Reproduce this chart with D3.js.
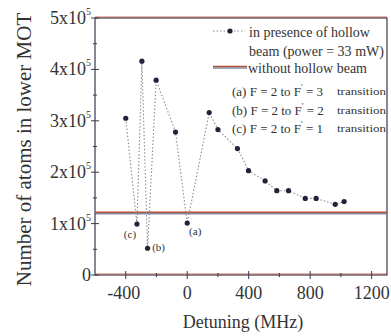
<!DOCTYPE html>
<html>
<head>
<meta charset="utf-8">
<script src="https://cdn.jsdelivr.net/npm/d3@7"></script>
<style>
  html, body { margin: 0; padding: 0; background: #fff; }
</style>
</head>
<body>
<div id="chart"></div>
<script>
// detuning (MHz) and atom number with hollow beam on
const detuning = [-400, -327, -295, -258, -202, -76, 0, 143, 200, 327, 399, 507, 583, 659, 768, 839, 963, 1021];
const atoms    = [3.05e5, 0.99e5, 4.16e5, 0.52e5, 3.79e5, 2.78e5, 1.01e5, 3.16e5, 2.83e5, 2.46e5,
                  2.03e5, 1.83e5, 1.64e5, 1.64e5, 1.49e5, 1.49e5, 1.375e5, 1.43e5];
// level without hollow beam
const withoutBeam = 1.2e5;

const xTicks = [-400, 0, 400, 800, 1200];
const xMinor = [-600, -200, 200, 600, 1000];
const yTicks = [0, 1e5, 2e5, 3e5, 4e5, 5e5];
const yMinor = [0.5e5, 1.5e5, 2.5e5, 3.5e5, 4.5e5];

// transition markers: [detuning, atoms, label]
const marks = [[-327, 0.99e5, "(c)"], [-258, 0.52e5, "(b)"], [0, 1.01e5, "(a)"]];

const legendTransitions = [
  ["(a) F = 2 to F", " = 3"],
  ["(b) F = 2 to F", " = 2"],
  ["(c) F = 2 to F", " = 1"]
];

const width = 391, height = 336;
const margin = { top: 18, right: 4, bottom: 61, left: 95 };
const serif = "'Liberation Serif', 'Times New Roman', Times, 'DejaVu Serif', serif";

const svg = d3.select("#chart").append("svg")
  .attr("width", width)
  .attr("height", height)
  .attr("font-family", serif)
  .style("display", "block");

const x = d3.scaleLinear().domain([-600, 1300]).range([margin.left, width - margin.right]);
const y = d3.scaleLinear().domain([0, 5e5]).range([height - margin.bottom, margin.top]);

const ink = "#3a3a4e";
const red = "#b5503a";

// frame
const x0 = x.range()[0], x1 = x.range()[1], yb = y(0), yt = y(5e5);
svg.append("rect")
  .attr("x", x0).attr("y", yt)
  .attr("width", x1 - x0).attr("height", yb - yt)
  .attr("fill", "none").attr("stroke", ink).attr("stroke-width", 1.2);
// reddish fringe on horizontal edges (scan look)
[yt, yb].forEach(v => {
  svg.append("line").attr("x1", x0).attr("x2", x1).attr("y1", v - 1).attr("y2", v - 1)
    .attr("stroke", red).attr("stroke-width", 1.2).attr("opacity", 0.8);
});

// ticks
const tickG = svg.append("g").attr("stroke", ink).attr("stroke-width", 1);
xTicks.forEach(t => tickG.append("line").attr("x1", x(t)).attr("x2", x(t)).attr("y1", yb - 4).attr("y2", yb + 4));
xMinor.filter(t => x(t) > x0 + 1).forEach(t => tickG.append("line").attr("x1", x(t)).attr("x2", x(t)).attr("y1", yb - 2).attr("y2", yb + 2));
yTicks.forEach(t => tickG.append("line").attr("x1", x0 - 4).attr("x2", x0 + 4).attr("y1", y(t)).attr("y2", y(t)));
yMinor.forEach(t => tickG.append("line").attr("x1", x0 - 2).attr("x2", x0 + 2).attr("y1", y(t)).attr("y2", y(t)));

// x tick labels
svg.append("g").selectAll("text").data(xTicks).enter().append("text")
  .attr("x", d => x(d) + (d < 0 ? -2 : 0))
  .attr("y", yb + 24)
  .attr("text-anchor", "middle")
  .attr("font-size", 18)
  .attr("fill", "#333")
  .text(d => d);

// y tick labels with superscript exponent
const yl = svg.append("g").selectAll("text").data(yTicks).enter().append("text")
  .attr("x", x0 - 4)
  .attr("y", d => y(d) + 6)
  .attr("text-anchor", "end")
  .attr("font-size", 18)
  .attr("fill", "#333");
yl.each(function (d) {
  const t = d3.select(this);
  if (d === 0) { t.text("0"); return; }
  t.append("tspan").text((d / 1e5) + "x10");
  t.append("tspan").attr("font-size", 10).attr("dy", -9).text("5");
});

// axis titles
svg.append("text")
  .attr("x", 243)
  .attr("y", height - 8)
  .attr("text-anchor", "middle")
  .attr("font-size", 18)
  .attr("fill", "#333")
  .text("Detuning (MHz)");

svg.append("text")
  .attr("transform", `translate(31,${(yt + yb) / 2 + 3}) rotate(-90)`)
  .attr("text-anchor", "middle")
  .attr("font-size", 21)
  .attr("fill", "#333")
  .text("Number of atoms in lower MOT");

// without hollow beam line
svg.append("line")
  .attr("x1", x0).attr("x2", x1)
  .attr("y1", y(withoutBeam) - 1).attr("y2", y(withoutBeam) - 1)
  .attr("stroke", red).attr("stroke-width", 1.5);
svg.append("line")
  .attr("x1", x0).attr("x2", x1)
  .attr("y1", y(withoutBeam) + 0.5).attr("y2", y(withoutBeam) + 0.5)
  .attr("stroke", "#4a5a78").attr("stroke-width", 1);

// dotted data line
const pts = detuning.map((d, i) => [d, atoms[i]]);
const line = d3.line().x(d => x(d[0])).y(d => y(d[1]));
svg.append("path")
  .datum(pts)
  .attr("d", line)
  .attr("fill", "none")
  .attr("stroke", "#8a8a96")
  .attr("stroke-width", 1.1)
  .attr("stroke-dasharray", "1.5,2");

svg.append("g").selectAll("circle").data(pts).enter().append("circle")
  .attr("cx", d => x(d[0]))
  .attr("cy", d => y(d[1]))
  .attr("r", 2.6)
  .attr("fill", "#22223a");

// transition annotations
const annOffset = { "(c)": [-7, 14], "(b)": [11, 3], "(a)": [8, 12] };
svg.append("g").selectAll("text").data(marks).enter().append("text")
  .attr("x", d => x(d[0]) + annOffset[d[2]][0])
  .attr("y", d => y(d[1]) + annOffset[d[2]][1])
  .attr("text-anchor", "middle")
  .attr("font-size", 11)
  .attr("fill", "#333")
  .text(d => d[2]);

// legend
const lg = svg.append("g").attr("fill", "#333");
lg.append("line").attr("x1", 213).attr("x2", 245).attr("y1", 31).attr("y2", 31)
  .attr("stroke", "#8a8a96").attr("stroke-width", 1.1).attr("stroke-dasharray", "1.5,2");
lg.append("circle").attr("cx", 230).attr("cy", 31).attr("r", 2.6).attr("fill", "#22223a");
lg.append("text").attr("x", 249).attr("y", 37).attr("font-size", 14)
  .attr("textLength", 121).attr("lengthAdjust", "spacingAndGlyphs").text("in presence of hollow");
lg.append("text").attr("x", 249).attr("y", 56).attr("font-size", 14)
  .attr("textLength", 135).attr("lengthAdjust", "spacingAndGlyphs").text("beam (power = 33 mW)");
lg.append("line").attr("x1", 213).attr("x2", 247).attr("y1", 66.5).attr("y2", 66.5)
  .attr("stroke", red).attr("stroke-width", 1.5);
lg.append("line").attr("x1", 213).attr("x2", 247).attr("y1", 68).attr("y2", 68)
  .attr("stroke", "#4a5a78").attr("stroke-width", 1);
lg.append("text").attr("x", 248).attr("y", 73).attr("font-size", 14)
  .attr("textLength", 119).attr("lengthAdjust", "spacingAndGlyphs").text("without hollow beam");

legendTransitions.forEach((r, i) => {
  const yy = 96 + i * 18.5;
  const t = lg.append("text").attr("x", 232).attr("y", yy).attr("font-size", 13);
  t.append("tspan").text(r[0]);
  t.append("tspan").attr("font-size", 9).attr("dy", -6).text("'");
  t.append("tspan").attr("dy", 6).text(r[1]);
  lg.append("text").attr("x", 337).attr("y", yy - 1).attr("font-size", 11)
    .attr("textLength", 49).attr("lengthAdjust", "spacingAndGlyphs").text("transition");
});
</script>
</body>
</html>
